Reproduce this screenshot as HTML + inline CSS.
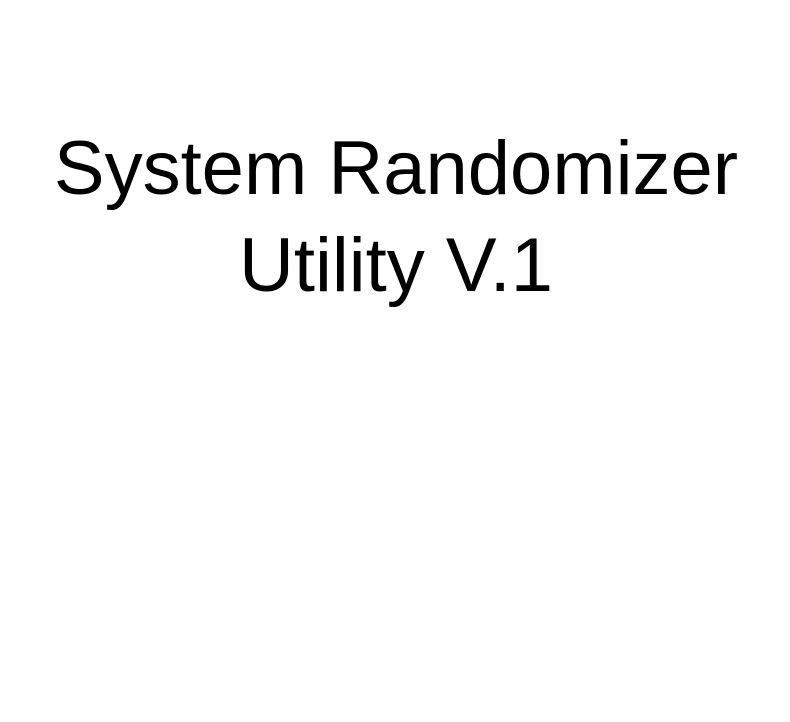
<!DOCTYPE html>
<html>
<head>
<meta charset="utf-8">
<style>
  html, body { margin: 0; padding: 0; background: #fff; }
  body { width: 790px; height: 722px; position: relative; overflow: hidden; }
  .title {
    position: absolute;
    left: 0; top: 120px; width: 792px;
    text-align: center;
    font-family: "Liberation Sans", sans-serif;
    font-size: 76px;
    line-height: 97px;
    color: #000;
  }
</style>
</head>
<body>
  <div class="title">System Randomizer<br>Utility V.1</div>
</body>
</html>
